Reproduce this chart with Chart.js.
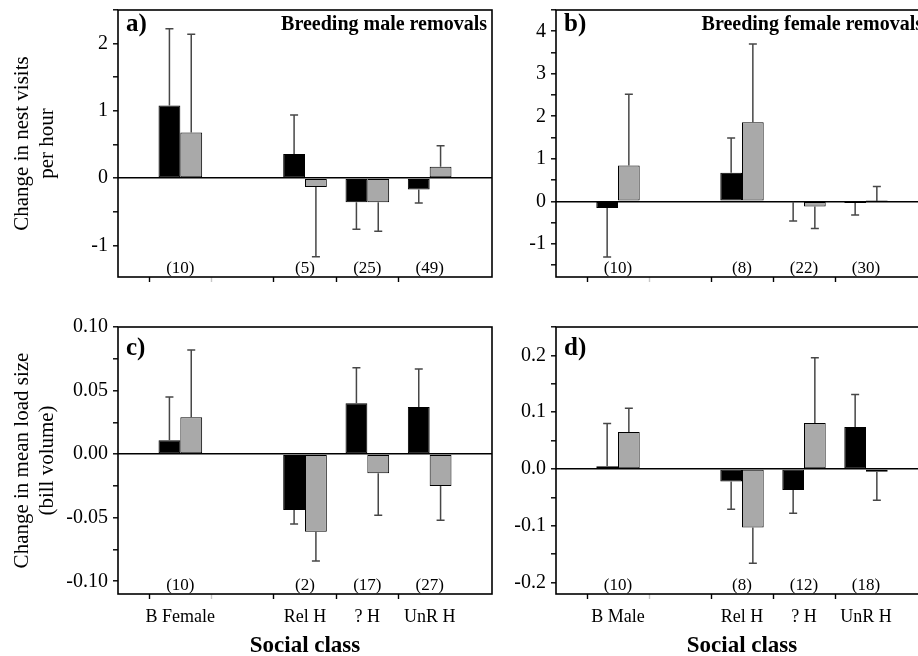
<!DOCTYPE html>
<html>
<head>
<meta charset="utf-8">
<script src="https://cdn.jsdelivr.net/npm/chart.js@4/dist/chart.umd.min.js"></script>
<style>
  html, body { margin: 0; padding: 0; background: #fff; overflow: hidden; width: 918px; height: 656px; }
  .panel { position: absolute; }
</style>
</head>
<body>
<div class="panel" style="left:0;top:0;width:500px;height:290px"><canvas id="chartA"></canvas></div>
<div class="panel" style="left:500px;top:0;width:436px;height:290px"><canvas id="chartB"></canvas></div>
<div class="panel" style="left:0;top:290px;width:500px;height:370px"><canvas id="chartC"></canvas></div>
<div class="panel" style="left:500px;top:290px;width:436px;height:370px"><canvas id="chartD"></canvas></div>
<script>
"use strict";

// 1: data
const classesMaleRemoval = ['B Female', 'Rel H', '? H', 'UnR H'];
const classesFemaleRemoval = ['B Male', 'Rel H', '? H', 'UnR H'];

// change in nest visits per hour
const visitsMaleBlack = [1.08, 0.36, -0.36, -0.17];
const visitsMaleBlackErr = [1.14, 0.58, 0.40, 0.20];
const visitsMaleGrey = [0.68, -0.13, -0.36, 0.17];
const visitsMaleGreyErr = [1.46, 1.04, 0.43, 0.31];
const visitsMaleN = [10, 5, 25, 49];

const visitsFemaleBlack = [-0.16, 0.67, -0.01, -0.04];
const visitsFemaleBlackErr = [1.15, 0.82, 0.45, 0.28];
const visitsFemaleGrey = [0.84, 1.86, -0.12, 0.01];
const visitsFemaleGreyErr = [1.68, 1.84, 0.52, 0.34];
const visitsFemaleN = [10, 8, 22, 30];

// change in mean load size (bill volume)
const loadMaleBlack = [0.011, -0.044, 0.040, 0.037];
const loadMaleBlackErr = [0.034, 0.011, 0.028, 0.030];
const loadMaleGrey = [0.029, -0.061, -0.015, -0.025];
const loadMaleGreyErr = [0.053, 0.023, 0.033, 0.027];
const loadMaleN = [10, 2, 17, 27];

const loadFemaleBlack = [0.005, -0.022, -0.037, 0.074];
const loadFemaleBlackErr = [0.075, 0.049, 0.041, 0.057];
const loadFemaleGrey = [0.065, -0.103, 0.081, -0.005];
const loadFemaleGreyErr = [0.042, 0.063, 0.115, 0.050];
const loadFemaleN = [10, 8, 12, 18];

// 2: helpers
// slots on the x axis: [pad, first class, gap, 3 helper classes, pad]
function slots(arr, fill) {
  return [fill, arr[0], fill, arr[1], arr[2], arr[3], fill];
}

const FONT = "'Liberation Serif', 'Times New Roman', serif";
Chart.defaults.font.family = FONT;
Chart.defaults.color = '#000';

const panelDecor = {
  id: 'panelDecor',
  afterDatasetsDraw(chart) {
    const o = chart.options.plugins.panelDecor;
    const ctx = chart.ctx;
    const a = chart.chartArea;
    const x = chart.scales.x;
    const y = chart.scales.y;
    ctx.save();

    // error bars, one sided, away from zero
    ctx.strokeStyle = '#474747';
    ctx.lineWidth = 1.5;
    chart.data.datasets.forEach((ds, di) => {
      const meta = chart.getDatasetMeta(di);
      meta.data.forEach((bar, i) => {
        const v = ds.data[i];
        const e = ds.errors[i];
        if (v == null || e == null) return;
        const end = y.getPixelForValue(v < 0 ? v - e : v + e);
        ctx.beginPath();
        ctx.moveTo(bar.x, bar.y);
        ctx.lineTo(bar.x, end);
        ctx.moveTo(bar.x - 4, end);
        ctx.lineTo(bar.x + 4, end);
        ctx.stroke();
      });
    });

    // box round the plot
    ctx.strokeStyle = '#000';
    ctx.lineWidth = 1.6;
    ctx.strokeRect(a.left, a.top, a.right - a.left, a.bottom - a.top);

    // sample sizes
    ctx.fillStyle = '#000';
    ctx.font = '17px ' + FONT;
    ctx.textAlign = 'center';
    ctx.textBaseline = 'middle';
    o.counts.forEach((n, i) => {
      if (n == null) return;
      ctx.fillText('(' + n + ')', x.getPixelForValue(i), a.bottom - 8);
    });

    // panel letter and heading
    ctx.textBaseline = 'alphabetic';
    ctx.textAlign = 'left';
    ctx.font = 'bold 25px ' + FONT;
    ctx.fillText(o.letter, a.left + 8, a.top + o.letterY);
    if (o.heading) {
      ctx.textAlign = 'right';
      ctx.font = 'bold 20px ' + FONT;
      ctx.fillText(o.heading, a.right - 5, a.top + 20);
    }
    ctx.restore();
  }
};

// 3: create the panels
function makePanel(id, p) {
  const near = (v, step) => Math.abs(v / step - Math.round(v / step)) < 1e-6;
  new Chart(document.getElementById(id), {
    type: 'bar',
    data: {
      labels: slots(p.classes, ''),
      datasets: [{
        label: 'black',
        data: slots(p.black, null),
        errors: slots(p.blackErr, null),
        backgroundColor: '#000',
        borderColor: '#000',
        borderWidth: 1,
        borderSkipped: false
      }, {
        label: 'grey',
        data: slots(p.grey, null),
        errors: slots(p.greyErr, null),
        backgroundColor: '#a9a9a9',
        borderColor: '#000',
        borderWidth: 1,
        borderSkipped: false
      }]
    },
    options: {
      responsive: true,
      maintainAspectRatio: false,
      animation: false,
      layout: { padding: { top: p.padTop, right: 8, bottom: 0, left: 0 } },
      datasets: { bar: { categoryPercentage: 0.7, barPercentage: 1 } },
      plugins: {
        legend: { display: false },
        tooltip: { enabled: false },
        panelDecor: { counts: slots(p.counts, null), letter: p.letter, letterY: p.letterY, heading: p.heading }
      },
      scales: {
        x: {
          offset: false,
          afterFit: (s) => {
            s.height = p.xHeight;
            s.paddingLeft = 0;
            s.paddingRight = 0;
          },
          border: { display: false },
          grid: {
            drawOnChartArea: false,
            tickLength: 5,
            tickWidth: 1.4,
            tickColor: (c) => (c.index === 0 || c.index === 6) ? 'rgba(0,0,0,0)' : (c.index === 2 ? '#c8c8c8' : '#000')
          },
          ticks: {
            display: p.showX,
            autoSkip: false,
            maxRotation: 0,
            padding: 7,
            font: { size: 18 }
          },
          title: {
            display: p.showX,
            text: 'Social class',
            font: { size: 23, weight: 'bold' },
            padding: { top: 0, bottom: 0 }
          }
        },
        y: {
          min: p.min,
          max: p.max,
          afterBuildTicks: (s) => {
            const t = [];
            for (let k = Math.ceil(p.min / p.step - 1e-9); k * p.step <= p.max + 1e-9; k++) {
              t.push({ value: +(k * p.step).toFixed(6) });
            }
            s.ticks = t;
          },
          afterFit: (s) => {
            s.width = p.yWidth;
            s.paddingTop = 0;
            s.paddingBottom = 0;
          },
          border: { display: false },
          grid: {
            color: (c) => (c.tick && Math.abs(c.tick.value) < 1e-9) ? '#000' : 'rgba(0,0,0,0)',
            lineWidth: 1.6,
            tickLength: 5,
            tickWidth: 1.4,
            tickColor: '#000'
          },
          ticks: {
            autoSkip: false,
            padding: 5,
            font: { size: 20 },
            callback: (v) => near(v, p.major) ? (Math.abs(v) < 1e-9 ? 0 : v).toFixed(p.decimals) : ''
          },
          title: {
            display: !!p.yTitle,
            text: p.yTitle,
            font: { size: 21, lineHeight: 1.2 },
            padding: { top: 10, bottom: 0 }
          }
        }
      }
    },
    plugins: [panelDecor]
  });
}

makePanel('chartA', {
  classes: classesMaleRemoval, black: visitsMaleBlack, blackErr: visitsMaleBlackErr,
  grey: visitsMaleGrey, greyErr: visitsMaleGreyErr, counts: visitsMaleN,
  min: -1.47, max: 2.5, step: 0.5, major: 1, decimals: 0,
  letter: 'a)', letterY: 21, heading: 'Breeding male removals',
  yTitle: ['Change in nest visits', 'per hour'], yWidth: 118,
  padTop: 10, xHeight: 13, showX: false
});

makePanel('chartB', {
  classes: classesFemaleRemoval, black: visitsFemaleBlack, blackErr: visitsFemaleBlackErr,
  grey: visitsFemaleGrey, greyErr: visitsFemaleGreyErr, counts: visitsFemaleN,
  min: -1.78, max: 4.5, step: 0.5, major: 1, decimals: 0,
  letter: 'b)', letterY: 21, heading: 'Breeding female removals',
  yTitle: null, yWidth: 56,
  padTop: 10, xHeight: 13, showX: false
});

makePanel('chartC', {
  classes: classesMaleRemoval, black: loadMaleBlack, blackErr: loadMaleBlackErr,
  grey: loadMaleGrey, greyErr: loadMaleGreyErr, counts: loadMaleN,
  min: -0.11, max: 0.10, step: 0.025, major: 0.05, decimals: 2,
  letter: 'c)', letterY: 28, heading: null,
  yTitle: ['Change in mean load size', '(bill volume)'], yWidth: 118,
  padTop: 37, xHeight: 66, showX: true
});

makePanel('chartD', {
  classes: classesFemaleRemoval, black: loadFemaleBlack, blackErr: loadFemaleBlackErr,
  grey: loadFemaleGrey, greyErr: loadFemaleGreyErr, counts: loadFemaleN,
  min: -0.22, max: 0.25, step: 0.05, major: 0.1, decimals: 1,
  letter: 'd)', letterY: 28, heading: null,
  yTitle: null, yWidth: 56,
  padTop: 37, xHeight: 66, showX: true
});
</script>
</body>
</html>
